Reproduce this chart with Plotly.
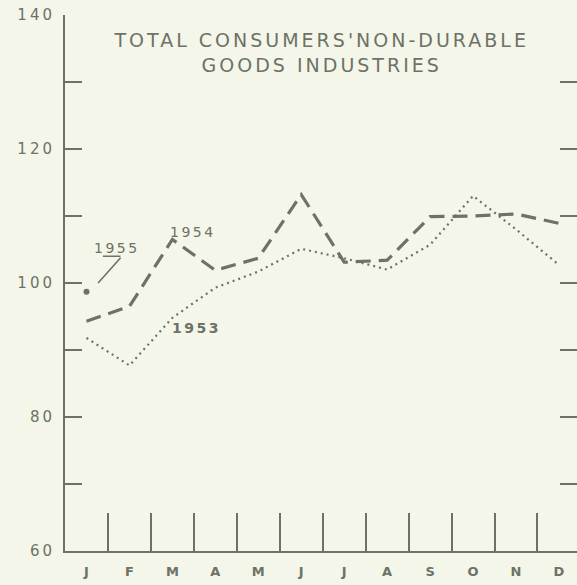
import plotly.graph_objects as go

months = ["J", "F", "M", "A", "M", "J", "J", "A", "S", "O", "N", "D"]
idx = list(range(12))
v1954 = [94.3, 96.5, 106.5, 101.9, 103.7, 113.2, 103.1, 103.4, 109.9, 110.0, 110.3, 108.9]
v1953 = [91.8, 87.7, 94.8, 99.3, 101.7, 105.1, 103.7, 102.0, 105.7, 113.0, 108.0, 102.7]
v1955 = [98.7]
y_ticks = [60, 70, 80, 90, 100, 110, 120, 130, 140]
y_labels = ["60", "", "80", "", "100", "", "120", "", "140"]
title_lines = ["TOTAL CONSUMERS'NON-DURABLE", "GOODS INDUSTRIES"]

INK = "#6c7265"
BG = "#f4f6ea"
FONT = "DejaVu Sans"

fig = go.Figure()
fig.add_trace(go.Scatter(x=idx, y=v1954, mode="lines",
                         line=dict(color=INK, width=3.2, dash="15px,8px"),
                         showlegend=False))
fig.add_trace(go.Scatter(x=idx, y=v1953, mode="lines",
                         line=dict(color=INK, width=2.2, dash="2px,4px"),
                         showlegend=False))
fig.add_trace(go.Scatter(x=idx[:1], y=v1955, mode="markers",
                         marker=dict(color=INK, size=6),
                         showlegend=False))
# invisible trace for right-side ticks
fig.add_trace(go.Scatter(x=idx[:1], y=v1955, mode="markers", yaxis="y2",
                         marker=dict(opacity=0), showlegend=False, hoverinfo="skip"))

fig.update_layout(
    width=577, height=585,
    margin=dict(l=65, r=0, t=15, b=34),
    paper_bgcolor=BG, plot_bgcolor=BG,
    font=dict(family=FONT, color=INK),
    xaxis=dict(range=[-0.5, 11.42], tickvals=idx, ticktext=months,
               ticks="", showgrid=False, zeroline=False,
               showline=True, linecolor=INK, linewidth=2,
               ticklabelstandoff=7,
               tickfont=dict(size=13, family=FONT, color=INK, weight="bold"),
               minor=dict(tickvals=[i + 0.5 for i in idx[:11]], ticks="inside",
                          ticklen=38, tickwidth=2, tickcolor=INK)),
    yaxis=dict(range=[60, 140], tickvals=y_ticks, ticktext=y_labels,
               ticks="inside", ticklen=17, tickwidth=2, tickcolor=INK,
               showgrid=False, zeroline=False, showline=True,
               linecolor=INK, linewidth=2, ticklabelstandoff=5,
               tickfont=dict(size=15, family=FONT, color=INK)),
    yaxis2=dict(range=[60, 140], tickvals=y_ticks, overlaying="y", side="right",
                ticks="inside", ticklen=17, tickwidth=2, tickcolor=INK,
                showticklabels=False, showgrid=False, zeroline=False,
                showline=False),
)

fig.add_annotation(x=0.5, xref="paper", y=134.4, yref="y",
                   text=title_lines[0] + "<br>" + title_lines[1],
                   showarrow=False, font=dict(size=19, family=FONT, color=INK))
fig.add_annotation(x=0.27, y=100.0, ax=0.826, ay=104.0, axref="x", ayref="y",
                   text="", showarrow=True, arrowhead=0, arrowwidth=1.6,
                   arrowcolor=INK)
fig.add_annotation(x=0.384, y=104.0, ax=0.826, ay=104.0, axref="x", ayref="y",
                   text="", showarrow=True, arrowhead=0, arrowwidth=1.6,
                   arrowcolor=INK)
fig.add_annotation(x=0.71, y=105.2, text="1955", showarrow=False,
                   font=dict(size=14, family=FONT, color=INK, weight=500))
fig.add_annotation(x=2.48, y=107.6, text="1954", showarrow=False,
                   font=dict(size=14, family=FONT, color=INK, weight=500))
fig.add_annotation(x=2.57, y=93.3, text="1953", showarrow=False,
                   font=dict(size=14, family=FONT, color=INK, weight="bold"))

post = (
    "document.body.style.margin='0';"
    "document.body.style.background='" + BG + "';"
    "var gd=document.querySelector('.plotly-graph-div');"
    "gd.querySelectorAll('.annotation-text').forEach(function(t){"
    "t.style.letterSpacing=(t.textContent.length>10?'3px':'2.5px');});"
    "gd.querySelectorAll('.ytick text').forEach(function(t){"
    "t.style.letterSpacing='3px';});"
)
fig.write_html("out.html", post_script=post, config={"displayModeBar": False})
